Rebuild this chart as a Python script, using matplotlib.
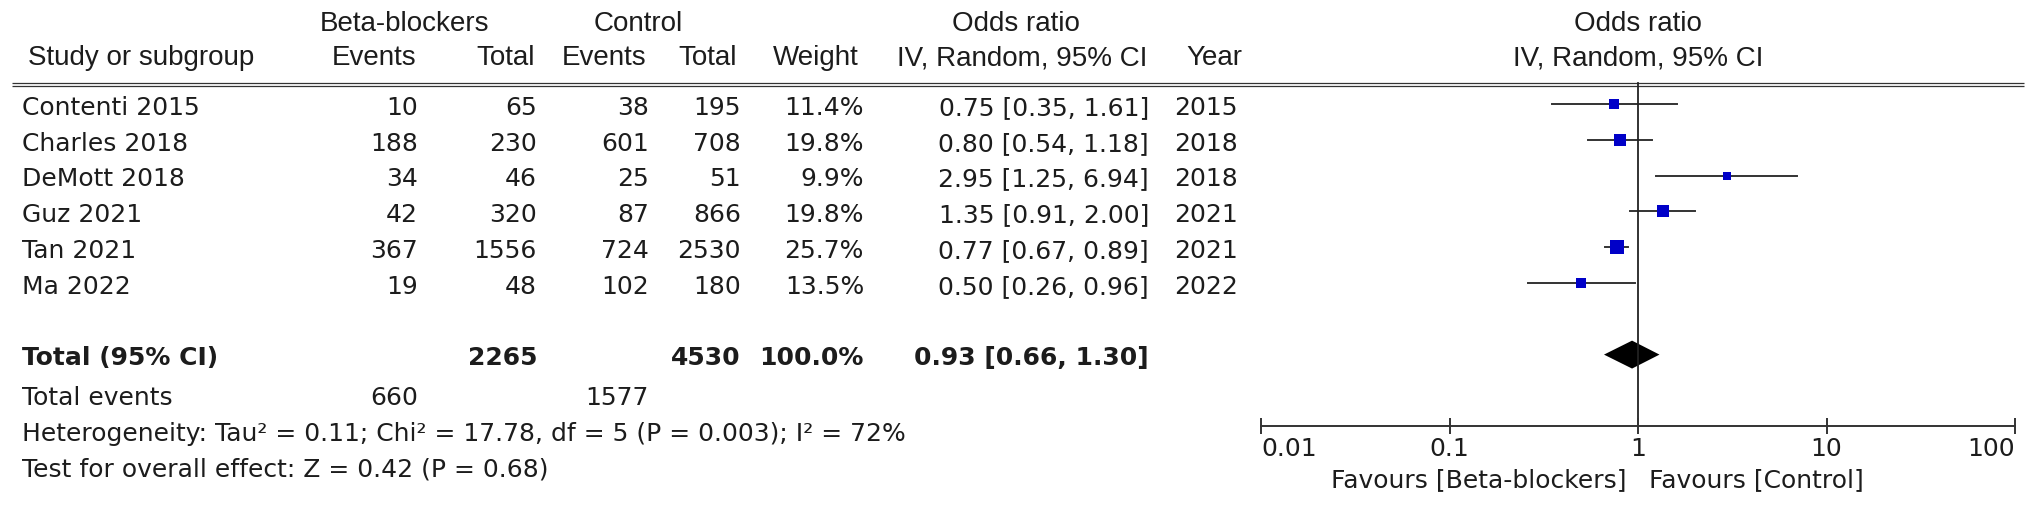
"""
Forest plot: beta-blockers vs control, odds ratio (IV, random effects).
Table on the left, forest panel on the right, saved to out.png.
"""

import matplotlib.pyplot as plt
import numpy as np

# ── data ───────────────────────────────────────────────────────────────────
studies = ["Contenti 2015", "Charles 2018", "DeMott 2018", "Guz 2021", "Tan 2021", "Ma 2022"]
bb_events = [10, 188, 34, 42, 367, 19]
bb_total = [65, 230, 46, 320, 1556, 48]
ctl_events = [38, 601, 25, 87, 724, 102]
ctl_total = [195, 708, 51, 866, 2530, 180]
weights = [11.4, 19.8, 9.9, 19.8, 25.7, 13.5]
odds = [0.75, 0.80, 2.95, 1.35, 0.77, 0.50]
ci_low = [0.35, 0.54, 1.25, 0.91, 0.67, 0.26]
ci_high = [1.61, 1.18, 6.94, 2.00, 0.89, 0.96]
years = [2015, 2018, 2018, 2021, 2021, 2022]

total_bb, total_ctl = 2265, 4530
events_bb, events_ctl = 660, 1577
pooled_or, pooled_lo, pooled_hi = 0.93, 0.66, 1.30
heterogeneity = "Heterogeneity: Tau² = 0.11; Chi² = 17.78, df = 5 (P = 0.003); I² = 72%"
overall_test = "Test for overall effect: Z = 0.42 (P = 0.68)"

or_ticks = [0.01, 0.1, 1, 10, 100]
tick_labels = ["0.01", "0.1", "1", "10", "100"]

# ── layout (pixels of the 2032x506 canvas, rows in row units) ─────────────
W, H = 2032, 506
ROW0, STEP = 105, 35.8          # pixel y of first study row, row height
TOTAL_ROW = 7.0
EVENTS_ROW = 8.1
AXIS_ROW = 9.0
HET_ROW = 9.1
TEST_ROW = 10.1
HDR1, HDR2 = -2.26, -1.31
RULE = (-0.58, -0.49)
TXT_DY = 0.08

COL_STUDY = 22
COL_BB_EV, COL_BB_TOT = 418, 537
COL_CT_EV, COL_CT_TOT = 649, 741
COL_W, COL_CI, COL_YEAR = 864, 1149, 1206
FOREST_L, FOREST_R = 1261, 2015

BODY = dict(family="DejaVu Sans", fontsize=18, color="#1c1c1c")
BOLD = dict(BODY, fontweight="bold")
HEAD = dict(family="Liberation Sans", fontsize=20, color="#1c1c1c")
LINE_C = "#333333"
BLUE = "#0000c8"

fig = plt.figure(figsize=(W / 100, H / 100), dpi=100)
ylim = ((H - ROW0) / STEP, -ROW0 / STEP)

ax_t = fig.add_axes([0, 0, 1, 1])
ax_t.set_xlim(0, W)
ax_t.set_ylim(*ylim)
ax_t.axis("off")

ax_f = fig.add_axes([FOREST_L / W, 0, (FOREST_R - FOREST_L) / W, 1])
ax_f.set_xscale("log")
ax_f.set_xlim(or_ticks[0], or_ticks[-1])
ax_f.set_ylim(*ylim)
ax_f.axis("off")
ax_f.patch.set_alpha(0)

# ── headers ────────────────────────────────────────────────────────────────
ax_t.text(405, HDR1, "Beta-blockers", ha="center", va="center", **HEAD)
ax_t.text(638, HDR1, "Control", ha="center", va="center", **HEAD)
ax_t.text(1016, HDR1, "Odds ratio", ha="center", va="center", **HEAD)
ax_t.text(28, HDR2, "Study or subgroup", ha="left", va="center", **HEAD)
for x, lab in [(416, "Events"), (535, "Total"), (646, "Events"), (737, "Total"),
               (859, "Weight"), (1147, "IV, Random, 95% CI")]:
    ax_t.text(x, HDR2, lab, ha="right", va="center", **HEAD)
ax_t.text(1214, HDR2, "Year", ha="center", va="center", **HEAD)

ax_f.text(1, HDR1, "Odds ratio", ha="center", va="center", **HEAD)
ax_f.text(1, HDR2, "IV, Random, 95% CI", ha="center", va="center", **HEAD)

# double rule under the header
for y in RULE:
    ax_t.plot([12, 2024], [y, y], color=LINE_C, lw=0.9, solid_capstyle="butt")

# ── study rows ─────────────────────────────────────────────────────────────
for i, name in enumerate(studies):
    y = i + TXT_DY
    ax_t.text(COL_STUDY, y, name, ha="left", va="center", **BODY)
    ax_t.text(COL_BB_EV, y, f"{bb_events[i]}", ha="right", va="center", **BODY)
    ax_t.text(COL_BB_TOT, y, f"{bb_total[i]}", ha="right", va="center", **BODY)
    ax_t.text(COL_CT_EV, y, f"{ctl_events[i]}", ha="right", va="center", **BODY)
    ax_t.text(COL_CT_TOT, y, f"{ctl_total[i]}", ha="right", va="center", **BODY)
    ax_t.text(COL_W, y, f"{weights[i]:.1f}%", ha="right", va="center", **BODY)
    ax_t.text(COL_CI, y, f"{odds[i]:.2f} [{ci_low[i]:.2f}, {ci_high[i]:.2f}]",
              ha="right", va="center", **BODY)
    ax_t.text(COL_YEAR, y, f"{years[i]}", ha="center", va="center", **BODY)

    ax_f.plot([ci_low[i], ci_high[i]], [i, i], color=LINE_C, lw=1.4)
    # box area proportional to weight
    side_px = 2.8 * np.sqrt(weights[i])
    ax_f.plot(odds[i], i, marker="s", ms=side_px * 0.72, color=BLUE, mec=BLUE, mew=0)

# ── totals ─────────────────────────────────────────────────────────────────
y = TOTAL_ROW + TXT_DY
ax_t.text(COL_STUDY, y, "Total (95% CI)", ha="left", va="center", **BOLD)
ax_t.text(COL_BB_TOT, y, f"{total_bb}", ha="right", va="center", **BOLD)
ax_t.text(COL_CT_TOT, y, f"{total_ctl}", ha="right", va="center", **BOLD)
ax_t.text(COL_W, y, "100.0%", ha="right", va="center", **BOLD)
ax_t.text(COL_CI, y, f"{pooled_or:.2f} [{pooled_lo:.2f}, {pooled_hi:.2f}]",
          ha="right", va="center", **BOLD)

y = EVENTS_ROW + TXT_DY
ax_t.text(COL_STUDY, y, "Total events", ha="left", va="center", **BODY)
ax_t.text(COL_BB_EV, y, f"{events_bb}", ha="right", va="center", **BODY)
ax_t.text(COL_CT_EV, y, f"{events_ctl}", ha="right", va="center", **BODY)
ax_t.text(COL_STUDY, HET_ROW + TXT_DY, heterogeneity, ha="left", va="center", **BODY)
ax_t.text(COL_STUDY, TEST_ROW + TXT_DY, overall_test, ha="left", va="center", **BODY)

# pooled diamond
h = 0.39
ax_f.fill([pooled_lo, pooled_or, pooled_hi, pooled_or],
          [TOTAL_ROW, TOTAL_ROW - h, TOTAL_ROW, TOTAL_ROW + h],
          color="black", lw=0)

# ── forest axis ────────────────────────────────────────────────────────────
ax_f.plot([1, 1], [RULE[0], AXIS_ROW], color="#222222", lw=1.3)
ax_f.plot([or_ticks[0], or_ticks[-1]], [AXIS_ROW, AXIS_ROW], color=LINE_C, lw=1.4,
          clip_on=False)
ax_f.vlines(or_ticks, AXIS_ROW - 0.22, AXIS_ROW + 0.22, color=LINE_C, lw=1.4,
            clip_on=False)
for i, (t, lab) in enumerate(zip(or_ticks, tick_labels)):
    ha = "left" if i == 0 else ("right" if i == len(or_ticks) - 1 else "center")
    ax_f.text(t, AXIS_ROW + 0.6, lab, ha=ha, va="center", **BODY)
ax_f.text(0.87, AXIS_ROW + 1.47, "Favours [Beta-blockers]", ha="right", va="center", **BODY)
ax_f.text(1.15, AXIS_ROW + 1.47, "Favours [Control]", ha="left", va="center", **BODY)

fig.savefig("out.png", dpi=100)
